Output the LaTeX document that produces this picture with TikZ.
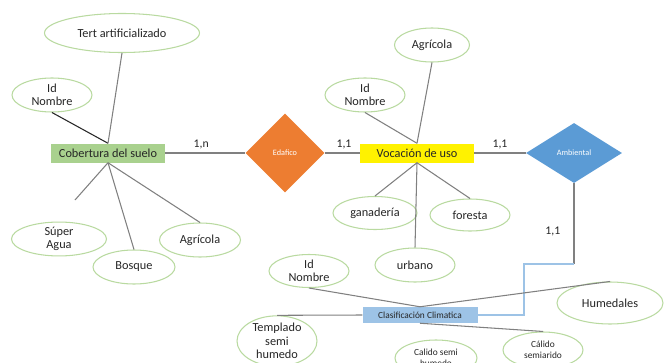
\documentclass[tikz,border=0pt]{standalone}
\usepackage{fontspec}
\setmainfont{Carlito}
\usepackage{tikz}
\usetikzlibrary{shapes}
\usetikzlibrary{calc}
\definecolor{verdebox}{HTML}{A9D18E}
\definecolor{verdeborde}{HTML}{B9DAA0}
\definecolor{naranja}{HTML}{ED7D31}
\definecolor{azul}{HTML}{5B9BD5}
\definecolor{celeste}{HTML}{9DC3E6}
\definecolor{texto}{HTML}{262626}
\definecolor{linea}{HTML}{808080}

\begin{document}
\begin{tikzpicture}[x=0.03cm,y=-0.03cm,
	atrib/.style={ellipse,draw=verdeborde,line width=0.9pt,fill=white,inner sep=0pt,
		minimum width=2.4cm,minimum height=1.02cm,align=center,text=texto,
		font=\fontsize{10.5}{11.5}\selectfont},
	chico/.style={font=\fontsize{8}{9}\selectfont},
	entidad/.style={rectangle,inner sep=0pt,minimum height=0.57cm,minimum width=3.42cm,
		text=texto,font=\fontsize{10.5}{12}\selectfont},
	relacion/.style={diamond,inner sep=0pt,text=white,font=\fontsize{7}{8}\selectfont},
	enlace/.style={draw=linea,line width=0.9pt},
	card/.style={text=texto,font=\fontsize{10}{11}\selectfont}]
\clip (0,0) rectangle (668,363);
\fill[white] (0,0) rectangle (668,363);

% entidades y relaciones
\node[entidad,fill=verdebox] (cob) at (108,153) {Cobertura del suelo};
\node[relacion,fill=naranja,minimum width=2.37cm,minimum height=2.37cm] (eda) at (285,153) {Edafico};
\node[entidad,fill=yellow] (voc) at (417,153) {Vocación de uso};
\node[relacion,fill=azul,minimum width=2.88cm,minimum height=1.8cm] (amb) at (574,153) {Ambiental};
\node[entidad,fill=celeste,minimum width=3.45cm,minimum height=0.48cm,
	font=\fontsize{8}{9}\selectfont] (clas) at (420,315) {Clasificación Climatica};

% atributos de cobertura
\node[atrib,minimum width=4.65cm,minimum height=1.17cm] (tert) at (122,33) {Tert artificializado};
\node[atrib] (idc) at (52,95) {Id\\Nombre};
\node[atrib,minimum width=2.85cm,minimum height=0.96cm] (super) at (59,239) {Súper\\Agua};
\node[atrib,minimum width=2.46cm] (bos) at (134,267) {Bosque};
\node[atrib,minimum width=2.43cm] (agc) at (200,240) {Agrícola};

% atributos de vocacion
\node[atrib,minimum width=2.25cm] (agv) at (432,45) {Agrícola};
\node[atrib] (idv) at (365,95) {Id\\Nombre};
\node[atrib,minimum width=2.52cm,minimum height=0.99cm] (gan) at (375,213) {ganadería};
\node[atrib,minimum width=2.4cm,minimum height=0.96cm] (for) at (470,215) {foresta};
\node[atrib] (urb) at (415,265) {urbano};

% atributos de clasificacion
\node[atrib,minimum height=0.99cm] (idk) at (309,271) {Id\\Nombre};
\node[atrib,minimum height=1.44cm] (tem) at (277,341) {Templado\\semi\\humedo};
\node[atrib,minimum width=3.18cm,minimum height=1.26cm] (hum) at (610,303) {Humedales};
\node[atrib,chico,minimum width=2.46cm,minimum height=1.08cm] (csh) at (436,358) {Calido semi\\humedo};
\node[atrib,chico,minimum height=1.08cm] (csa) at (543,350) {Cálido\\semiarido};

\coordinate (suelta) at (75,200);
\coordinate (codo) at (574,264);

% conexiones
\draw[enlace] (cob) -- node[card,above,pos=0.45] {1,n} (eda);
\draw[enlace] (eda) -- node[card,above,pos=0.55] {1,1} (voc);
\draw[enlace] (voc) -- node[card,above] {1,1} (amb);
\draw[enlace] (amb.south) -- node[card,left=8pt,pos=0.6] {1,1} (codo);
\draw[celeste,line width=0.9pt] (codo) -- ++(-50,0) |- (clas.east);

\draw[enlace] (tert.south) -- (cob.north);
\draw[enlace,draw=texto] (idc.south) -- (cob.north);
\draw[enlace] (cob.south) -- (suelta);
\draw[enlace] (cob.south) -- (bos.north);
\draw[enlace] (cob.south) -- (agc.north);

\draw[enlace] (agv.south) -- (voc.north);
\draw[enlace] (idv.south) -- (voc.north);
\draw[enlace] (voc.south) -- (gan.north);
\draw[enlace] (voc.south) -- (urb.north);
\draw[enlace] (voc.south) -- (for.north);

\draw[enlace] (idk.south) -- (clas.north);
\draw[enlace] (tem.north) -- (clas.west);
\draw[enlace] (clas.north) -- (hum.north);
\draw[enlace] (clas.south) -- (csa.north);
\end{tikzpicture}
\end{document}
